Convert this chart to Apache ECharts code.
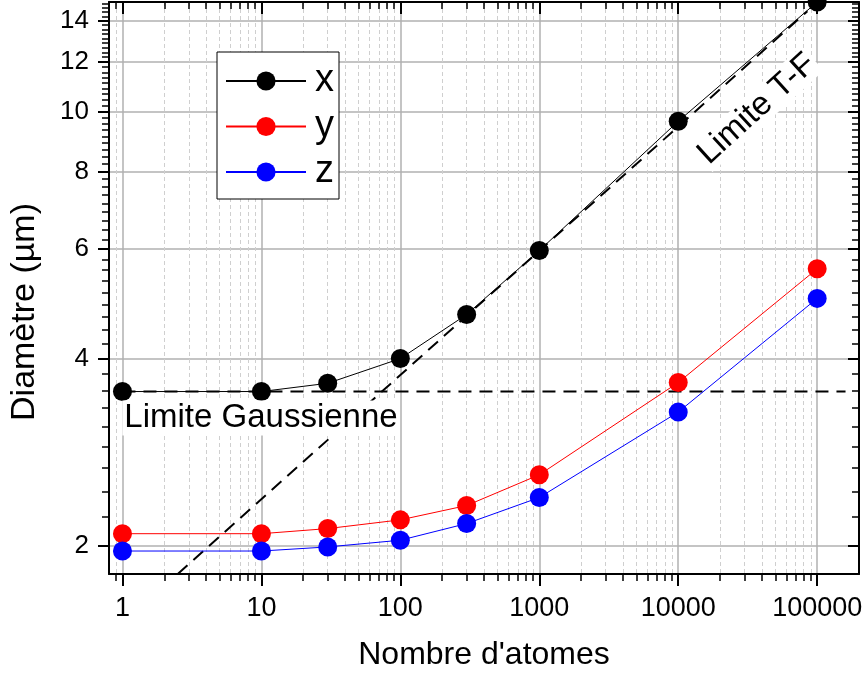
<!DOCTYPE html>
<html><head><meta charset="utf-8">
<script src="https://cdn.jsdelivr.net/npm/echarts@6/dist/echarts.min.js"></script>
<style>html,body{margin:0;padding:0;background:#fff}#c{width:866px;height:677px}</style>
</head><body><div id="c"></div>
<script>
// ---- data ----
const atoms = [1, 10, 30, 100, 300, 1000, 10000, 100000];
const diamX = [3.54, 3.54, 3.65, 4.0, 4.71, 5.97, 9.64, 15.0];
const diamY = [2.09, 2.09, 2.13, 2.2, 2.32, 2.6, 3.66, 5.58];
const diamZ = [1.96, 1.96, 1.99, 2.04, 2.17, 2.39, 3.28, 5.0];
const gaussN = [1, 160000];
const gaussD = [3.54, 3.54];
const tfN = [2.5, 85000];
const tfD = [1.8, 14.5];
// ---- tick values ----
const xMajorTicks = [1, 10, 100, 1000, 10000, 100000];
const xMinorTicks = [0.9, 2, 3, 4, 5, 6, 7, 8, 9, 20, 30, 40, 50, 60, 70, 80, 90,
  200, 300, 400, 500, 600, 700, 800, 900, 2000, 3000, 4000, 5000, 6000, 7000, 8000, 9000,
  20000, 30000, 40000, 50000, 60000, 70000, 80000, 90000];
const yMajorTicks = [2, 4, 6, 8, 10, 12, 14];
const yMinorTicks = [];
for (let i = 0; i < yMajorTicks.length; i++) {
  for (let k = 1; k <= 8; k++) {
    const v = yMajorTicks[i] + k * 2 / 9;
    if (v < 15) yMinorTicks.push(+v.toFixed(4));
  }
}

const FONT = '"Liberation Sans", Arial, Helvetica, sans-serif';
const XMIN = 0.8, XMAX = 200000, YMIN = 1.8, YMAX = 15;

function pairs(a, b) { return a.map((v, i) => [v, b[i]]); }

function axisDef(pos, ticks, len, inside, major, withLine, withSplit, split, isX) {
  return {
    type: 'log', logBase: 10,
    min: isX ? XMIN : YMIN, max: isX ? XMAX : YMAX, position: pos,
    axisLine: { show: withLine, onZero: false, lineStyle: { color: '#000', width: 2 } },
    axisTick: { show: true, customValues: ticks, length: len, inside: inside,
      lineStyle: { color: '#000', width: major ? 2 : 1.5 } },
    axisLabel: { show: false },
    splitLine: { show: withSplit, lineStyle: split },
    minorTick: { show: false }, minorSplitLine: { show: false },
    axisPointer: { show: false }, silent: true
  };
}

const majorGrid = { color: '#b0b0b0', width: 1.5, type: 'solid' };
const minorGrid = { color: '#cfcfcf', width: 1, type: [4, 3] };

const xA0 = axisDef('bottom', xMajorTicks, 12, false, true, true, true, majorGrid, true);
xA0.axisLabel = { show: true, customValues: xMajorTicks, margin: 21, color: '#000',
  fontSize: 27, fontFamily: FONT, formatter: v => String(Math.round(v)) };
xA0.name = "Nombre d'atomes";
xA0.nameLocation = 'middle';
xA0.nameGap = 65;
xA0.nameTextStyle = { color: '#000', fontSize: 32, fontFamily: FONT };
const xA1 = axisDef('bottom', xMinorTicks, 7, false, false, false, true, minorGrid, true);
const xA2 = axisDef('top', xMajorTicks, 12, true, true, true, false, majorGrid, true);
const xA3 = axisDef('top', xMinorTicks, 7, true, false, false, false, majorGrid, true);

const yA0 = axisDef('left', yMajorTicks, 11, false, true, true, true, majorGrid, false);
yA0.axisLabel = { show: true, customValues: yMajorTicks, margin: 20, color: '#000',
  fontSize: 26, fontFamily: FONT, formatter: v => String(Math.round(v)) };
yA0.name = 'Diamètre (µm)';
yA0.nameLocation = 'middle';
yA0.nameGap = 67;
yA0.nameTextStyle = { color: '#000', fontSize: 34, fontFamily: FONT, padding: [0, 48, 0, 0] };
const yA1 = axisDef('left', yMinorTicks, 7, false, false, false, false, minorGrid, false);
const yA2 = axisDef('right', yMajorTicks, 11, true, true, true, false, majorGrid, false);
const yA3 = axisDef('right', yMinorTicks, 7, true, false, false, false, majorGrid, false);

function markerSeries(name, ys, color) {
  return {
    name: name, type: 'line', data: pairs(atoms, ys), clip: false,
    symbol: 'circle', symbolSize: 19, showSymbol: true,
    itemStyle: { color: color },
    lineStyle: { color: color, width: 1 },
    emphasis: { disabled: true }, animation: false, z: 5
  };
}

const chart = echarts.init(document.getElementById('c'), null, { renderer: 'canvas' });
chart.setOption({
  animation: false,
  backgroundColor: '#fff',
  textStyle: { fontFamily: FONT },
  grid: { left: 108, right: 7, top: 2, bottom: 103, containLabel: false },
  xAxis: [xA0, xA1, xA2, xA3],
  yAxis: [yA0, yA1, yA2, yA3],
  legend: {
    data: ['x', 'y', 'z'], orient: 'vertical', left: 217, top: 52,
    itemWidth: 80, itemHeight: 24, itemGap: 7.5,
    padding: [10, 5, 8, 8],
    backgroundColor: '#fff', borderColor: '#000', borderWidth: 1, borderRadius: 0,
    textStyle: { color: '#000', fontSize: 38, fontFamily: FONT, lineHeight: 36, padding: [0, 0, 0, 4] },
    selectedMode: false
  },
  series: [
    { name: 'Limite Gaussienne', type: 'line', data: pairs(gaussN, gaussD), symbol: 'none',
      lineStyle: { color: '#000', width: 2, type: [13, 8] }, z: 3, silent: true },
    { name: 'Limite T-F', type: 'line', data: pairs(tfN, tfD), symbol: 'none',
      lineStyle: { color: '#000', width: 2, type: [13, 8] }, z: 3, silent: true },
    markerSeries('x', diamX, '#000000'),
    markerSeries('y', diamY, '#ff0000'),
    markerSeries('z', diamZ, '#0000ff')
  ],
  graphic: [
    { type: 'text', x: 261, y: 418, z: 100,
      style: { text: 'Limite Gaussienne', fontSize: 33, fontFamily: FONT, fill: '#000',
        align: 'center', verticalAlign: 'middle', backgroundColor: '#fff', padding: [1, 2] } },
    { type: 'text', x: 757, y: 109, rotation: 0.74, z: 100,
      style: { text: 'Limite T-F', fontSize: 33, fontFamily: FONT, fill: '#000',
        align: 'center', verticalAlign: 'middle', backgroundColor: '#fff', padding: [0, 2] } }
  ]
});
</script></body></html>
